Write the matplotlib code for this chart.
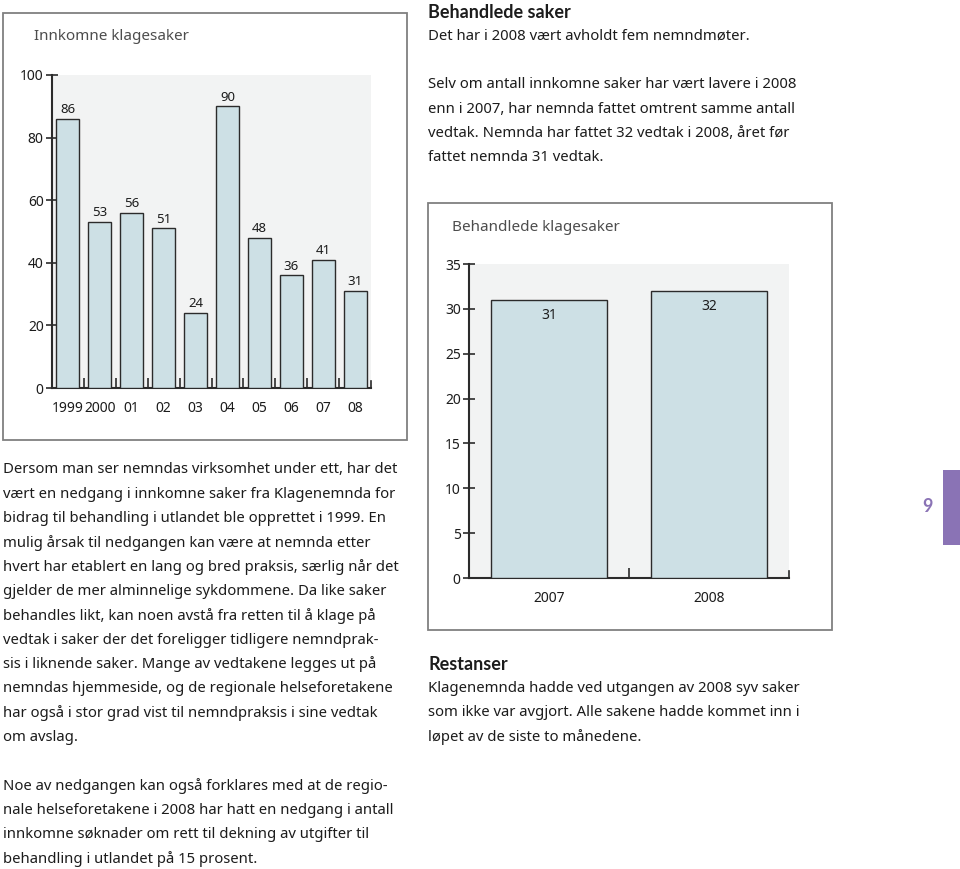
import matplotlib
matplotlib.use('Agg')
import matplotlib.pyplot as plt
import matplotlib.patches as patches
import numpy as np

plt.rcParams['font.family'] = ['Noto Sans', 'DejaVu Sans']

# data
years_in    = ['1999', '2000', '01', '02', '03', '04', '05', '06', '07', '08']
incoming    = [86, 53, 56, 51, 24, 90, 48, 36, 41, 31]
yticks_in   = [0, 20, 40, 60, 80, 100]

years_done  = ['2007', '2008']
handled     = [31, 32]
yticks_done = [0, 5, 10, 15, 20, 25, 30, 35]

bar_color  = '#cde0e5'
bg_color   = '#f2f3f3'
edge_color = '#2b2b2b'
text_color = '#1c1c1c'
frame_col  = '#808080'

W, H = 960, 869
fig = plt.figure(figsize=[W / 100, H / 100], dpi=100)


def fx(x):
    return x / W


def fy(y):
    return 1 - y / H


def frame(x0, y0, x1, y1):
    rect = patches.Rectangle((fx(x0), fy(y1)), fx(x1 - x0), (y1 - y0) / H,
                             transform=fig.transFigure, fill=False,
                             edgecolor=frame_col, linewidth=1.3)
    fig.add_artist(rect)


def bar_axes(x0, y0, x1, y1, names, values, yticks, inside):
    ax = fig.add_axes([fx(x0), fy(y1), fx(x1 - x0), (y1 - y0) / H])
    ax.set_facecolor(bg_color)
    pos = np.arange(len(values))
    ax.bar(pos, values, width=0.72, color=bar_color,
           edgecolor=edge_color, linewidth=1.0, zorder=3)
    ax.set_xlim(-0.5, len(values) - 0.5)
    ax.set_ylim(0, yticks[-1])
    ax.set_yticks(yticks)
    ax.set_xticks(pos)
    ax.set_xticklabels(names)
    ax.set_xticks(pos[:-1] + 0.5, minor=True)
    ax.tick_params(axis='x', which='major', length=0, pad=9,
                   labelsize=10, labelcolor=text_color)
    ax.tick_params(axis='x', which='minor', direction='in', length=7,
                   width=1.2, color=edge_color)
    ax.tick_params(axis='y', direction='inout', length=9, width=1.2,
                   pad=1.5, labelsize=10, labelcolor=text_color,
                   color=edge_color)
    for s in ['top', 'right']:
        ax.spines[s].set_visible(False)
    for s in ['left', 'bottom']:
        ax.spines[s].set_color(edge_color)
        ax.spines[s].set_linewidth(1.5)
    # end tick on the right side of the x axis
    ax.plot([len(values) - 0.5] * 2, [0, yticks[-1] * 0.022],
            color=edge_color, lw=1.2, clip_on=False, zorder=4)
    for p, v in zip(pos, values):
        if inside:
            ax.annotate(str(v), (p, v), xytext=(0, -6),
                        textcoords='offset points', ha='center', va='top',
                        fontsize=10, color=text_color, zorder=5)
        else:
            ax.annotate(str(v), (p, v), xytext=(0, 2),
                        textcoords='offset points', ha='center',
                        va='bottom', fontsize=9.5, color=text_color,
                        zorder=5)
    return ax


# chart 1: incoming cases
frame(3, 13, 407, 440)
fig.text(fx(34), fy(37), 'Innkomne klagesaker', fontsize=11,
         color='#4d4d4d', va='center', ha='left', fontweight='medium')
bar_axes(52, 75, 371, 388, years_in, incoming, yticks_in, inside=False)

# chart 2: handled cases
frame(428, 203, 832, 630)
fig.text(fx(452), fy(227), 'Behandlede klagesaker', fontsize=11,
         color='#4d4d4d', va='center', ha='left', fontweight='medium')
bar_axes(469, 264, 789, 578, years_done, handled, yticks_done, inside=True)

# body text
body = dict(fontsize=10.7, color=text_color, va='center', ha='left')
head = dict(fontsize=13, color=text_color, va='center', ha='left',
            fontweight='bold', family=['Lato', 'DejaVu Sans'])

fig.text(fx(428), fy(12), 'Behandlede saker', **head)
fig.text(fx(428), fy(36), 'Det har i 2008 vært avholdt fem nemndmøter.', **body)

right_top = ['Selv om antall innkomne saker har vært lavere i 2008',
             'enn i 2007, har nemnda fattet omtrent samme antall',
             'vedtak. Nemnda har fattet 32 vedtak i 2008, året før',
             'fattet nemnda 31 vedtak.']
for i, line in enumerate(right_top):
    fig.text(fx(428), fy(85 + i * 24.2), line, **body)

left_mid = ['Dersom man ser nemndas virksomhet under ett, har det',
            'vært en nedgang i innkomne saker fra Klagenemnda for',
            'bidrag til behandling i utlandet ble opprettet i 1999. En',
            'mulig årsak til nedgangen kan være at nemnda etter',
            'hvert har etablert en lang og bred praksis, særlig når det',
            'gjelder de mer alminnelige sykdommene. Da like saker',
            'behandles likt, kan noen avstå fra retten til å klage på',
            'vedtak i saker der det foreligger tidligere nemndprak-',
            'sis i liknende saker. Mange av vedtakene legges ut på',
            'nemndas hjemmeside, og de regionale helseforetakene',
            'har også i stor grad vist til nemndpraksis i sine vedtak',
            'om avslag.']
for i, line in enumerate(left_mid):
    fig.text(fx(3), fy(470 + i * 24.3), line, **body)

left_bot = ['Noe av nedgangen kan også forklares med at de regio-',
            'nale helseforetakene i 2008 har hatt en nedgang i antall',
            'innkomne søknader om rett til dekning av utgifter til',
            'behandling i utlandet på 15 prosent.']
for i, line in enumerate(left_bot):
    fig.text(fx(3), fy(786 + i * 24.2), line, **body)

fig.text(fx(428), fy(664), 'Restanser', **head)
right_bot = ['Klagenemnda hadde ved utgangen av 2008 syv saker',
             'som ikke var avgjort. Alle sakene hadde kommet inn i',
             'løpet av de siste to månedene.']
for i, line in enumerate(right_bot):
    fig.text(fx(428), fy(688 + i * 24.3), line, **body)

# page tab
tab = patches.Rectangle((fx(943), fy(545)), fx(17), 75 / H,
                        transform=fig.transFigure, color='#8a73b5', lw=0)
fig.add_artist(tab)
fig.text(fx(927), fy(507), '9', fontsize=13, fontweight='bold',
         family=['Lato', 'DejaVu Sans'], color='#8a73b5',
         ha='center', va='center')

plt.savefig('out.png', dpi=100)
